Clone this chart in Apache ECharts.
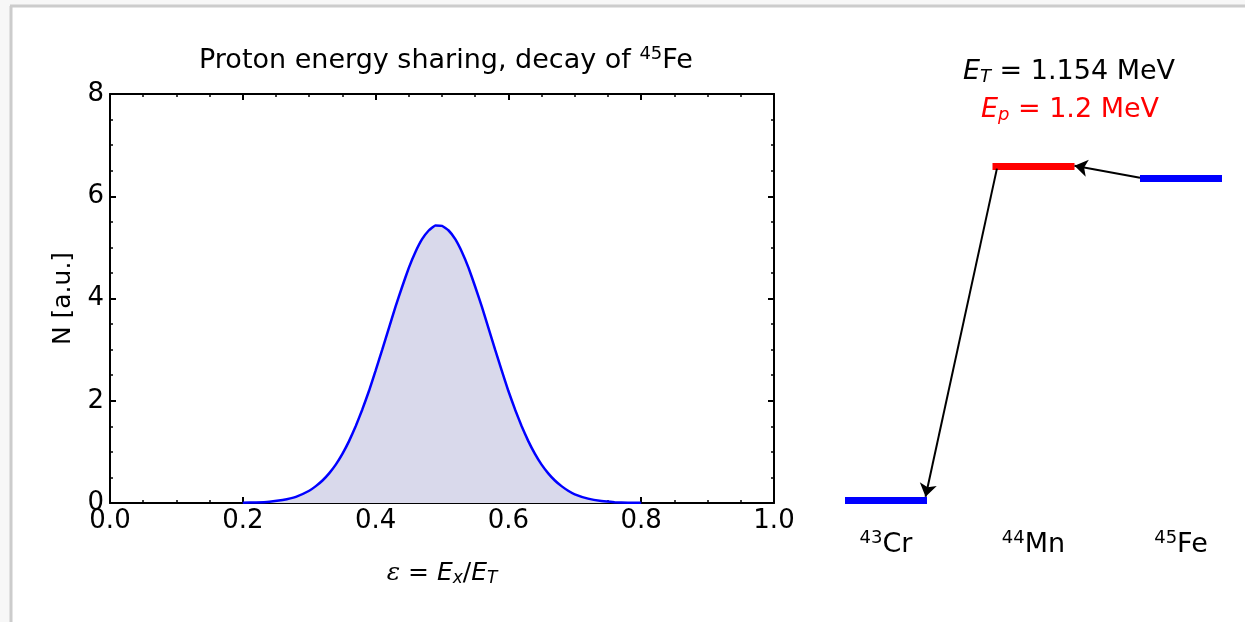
<!DOCTYPE html>
<html>
<head>
<meta charset="utf-8">
<script src="https://cdn.jsdelivr.net/npm/echarts@6/dist/echarts.min.js"></script>
<style>
html,body{margin:0;padding:0;background:#f7f7f7;}
#chart{width:1245px;height:622px;}
</style>
</head>
<body>
<div id="chart"></div>
<script>
// ---- data: proton energy sharing distribution ----
const epsilon = [0.20,0.22,0.24,0.26,0.28,0.30,0.31,0.32,0.33,0.34,0.35,0.36,0.37,0.38,0.39,0.40,0.41,0.42,0.43,0.44,0.45,0.46,0.47,0.48,0.49,0.50,0.51,0.52,0.53,0.54,0.55,0.56,0.57,0.58,0.59,0.60,0.61,0.62,0.63,0.64,0.65,0.66,0.67,0.68,0.69,0.70,0.72,0.74,0.76,0.78,0.80];
const counts  = [0.004,0.011,0.026,0.058,0.12,0.24,0.33,0.44,0.58,0.75,0.96,1.21,1.50,1.83,2.19,2.59,3.00,3.42,3.84,4.23,4.60,4.91,5.16,5.33,5.43,5.42,5.33,5.16,4.91,4.60,4.23,3.84,3.42,3.00,2.59,2.19,1.83,1.50,1.21,0.96,0.75,0.58,0.44,0.33,0.24,0.17,0.085,0.039,0.017,0.007,0.003];
const xTicks = [0.0,0.2,0.4,0.6,0.8,1.0];
const yTicks = [0,2,4,6,8];

// ---- data: level scheme ----
const massNumbers = ['43','44','45'];
const elements = ['Cr','Mn','Fe'];
const levelEnergies = [0, 1.2, 1.154];   // MeV relative to 43Cr
const transitions = [[2,1],[1,0]];       // 45Fe -> 44Mn -> 43Cr
const totalEnergy = '1.154';
const protonEnergy = '1.2';

const levelWidth = 0.556;
const levelColors = ['#0000ff','#ff0000','#0000ff'];

const chart = echarts.init(document.getElementById('chart'));
const FONT = 'DejaVu Sans';

const levelSeries = massNumbers.map((m,i)=>({
  type:'lines', coordinateSystem:'cartesian2d', xAxisIndex:2, yAxisIndex:2,
  polyline:false, symbol:['none','none'], silent:true,
  lineStyle:{color:levelColors[i], width:7, opacity:1},
  data:[{coords:[[i, levelEnergies[i]],[i+levelWidth, levelEnergies[i]]]}],
  z:3
}));

const arrowData = transitions.map(([from,to])=>{
  if (from === 2) {
    return {coords:[[from, levelEnergies[from]+0.003],[to+levelWidth, levelEnergies[to]]]};
  }
  return {coords:[[from+0.03, levelEnergies[from]-0.01],[to+levelWidth-0.01, levelEnergies[to]+0.012]]};
});

const labelData = massNumbers.map((m,i)=>({value:[i+levelWidth/2, levelEnergies[0]], name:m, el:elements[i]}));

const option = {
  backgroundColor:'#f7f7f7',
  animation:false,
  graphic:[
    {type:'rect', shape:{x:10,y:5,width:1240,height:620}, style:{fill:'#ffffff'}, z:-10, silent:true},
    {type:'line', shape:{x1:11,y1:6,x2:11,y2:622}, style:{stroke:'#cccccc', lineWidth:3}, z:-9, silent:true},
    {type:'line', shape:{x1:10,y1:6,x2:1245,y2:6}, style:{stroke:'#cccccc', lineWidth:3}, z:-9, silent:true}
  ],
  title:[
    {text:'Proton energy sharing, decay of {sup|45}{n|Fe}', left:441, top:40, textAlign:'center',
     textStyle:{fontFamily:FONT, fontSize:27, fontWeight:'normal', color:'#000',
       rich:{n:{fontFamily:FONT,fontSize:27,color:'#000'},
             sup:{fontFamily:FONT,fontSize:18,verticalAlign:'top',color:'#000',padding:[0,0,13,0]}}}},
    {text:'{e|E}{s|T}{n| = '+totalEnergy+' MeV}', left:1064, top:52, textAlign:'center',
     textStyle:{fontFamily:FONT, fontSize:27, fontWeight:'normal',
       rich:{e:{fontFamily:FONT,fontSize:27,fontStyle:'italic',color:'#000'},
             s:{fontFamily:FONT,fontSize:18,fontStyle:'italic',color:'#000',padding:[11,0,0,0]},
             n:{fontFamily:FONT,fontSize:27,color:'#000'}}}},
    {text:'{e|E}{s|p}{n| = '+protonEnergy+' MeV}', left:1065, top:90, textAlign:'center',
     textStyle:{fontFamily:FONT, fontSize:27, fontWeight:'normal',
       rich:{e:{fontFamily:FONT,fontSize:27,fontStyle:'italic',color:'#ff0000'},
             s:{fontFamily:FONT,fontSize:18,fontStyle:'italic',color:'#ff0000',padding:[11,0,0,0]},
             n:{fontFamily:FONT,fontSize:27,color:'#ff0000'}}}}
  ],
  grid:[
    {left:110, top:94, width:664, height:409, containLabel:false},
    {left:845, top:138, width:377, height:390, containLabel:false}
  ],
  xAxis:[
    {type:'value', gridIndex:0, min:0, max:1, interval:0.2, position:'bottom',
     name:'{eps|ε} = {e|E}{s|x}/{e|E}{s|T}', nameLocation:'middle', nameGap:57,
     nameTextStyle:{fontFamily:FONT, fontSize:25, color:'#000',
       rich:{eps:{fontFamily:'DejaVu Serif',fontSize:25,fontStyle:'italic',color:'#000'},
             e:{fontFamily:FONT,fontSize:25,fontStyle:'italic',color:'#000'},
             s:{fontFamily:FONT,fontSize:17,fontStyle:'italic',color:'#000',padding:[10,0,0,0]}}},
     axisLine:{show:true,onZero:false,lineStyle:{color:'#000',width:2}},
     axisTick:{show:true,inside:true,length:6,lineStyle:{color:'#000',width:2}},
     minorTick:{show:true,splitNumber:4,length:3,lineStyle:{color:'#000',width:1.5}},
     splitLine:{show:false},
     axisLabel:{fontFamily:FONT,fontSize:26,color:'#000',margin:5,
       formatter:v=>xTicks.find(t=>Math.abs(t-v)<1e-9).toFixed(1)}},
    {type:'value', gridIndex:0, min:0, max:1, interval:0.2, position:'top',
     axisLine:{show:true,onZero:false,lineStyle:{color:'#000',width:2}},
     axisTick:{show:true,inside:true,length:6,lineStyle:{color:'#000',width:2}},
     minorTick:{show:true,splitNumber:4,length:3,lineStyle:{color:'#000',width:1.5}},
     splitLine:{show:false}, axisLabel:{show:false}},
    {type:'value', gridIndex:1, min:0, max:2+levelWidth, show:false}
  ],
  yAxis:[
    {type:'value', gridIndex:0, min:0, max:8, interval:2, position:'left',
     name:'N [a.u.]', nameLocation:'middle', nameGap:34, nameRotate:90,
     nameTextStyle:{fontFamily:FONT, fontSize:25, color:'#000'},
     axisLine:{show:true,onZero:false,lineStyle:{color:'#000',width:2}},
     axisTick:{show:true,inside:true,length:6,lineStyle:{color:'#000',width:2}},
     minorTick:{show:true,splitNumber:4,length:3,lineStyle:{color:'#000',width:1.5}},
     splitLine:{show:false},
     axisLabel:{fontFamily:FONT,fontSize:26,color:'#000',margin:6,
       formatter:v=>String(yTicks.find(t=>t===v))}},
    {type:'value', gridIndex:0, min:0, max:8, interval:2, position:'right',
     axisLine:{show:true,onZero:false,lineStyle:{color:'#000',width:2}},
     axisTick:{show:true,inside:true,length:6,lineStyle:{color:'#000',width:2}},
     minorTick:{show:true,splitNumber:4,length:3,lineStyle:{color:'#000',width:1.5}},
     splitLine:{show:false}, axisLabel:{show:false}},
    {type:'value', gridIndex:1, min:-0.1, max:1.3, show:false}
  ],
  series:[
    {type:'line', xAxisIndex:0, yAxisIndex:0, smooth:0.1, symbol:'none',
     data:epsilon.map((x,i)=>[x,counts[i]]),
     lineStyle:{color:'#0000ff', width:2.5},
     areaStyle:{color:'#d9d9eb', opacity:1},
     z:2},
    ...levelSeries,
    {type:'lines', coordinateSystem:'cartesian2d', xAxisIndex:2, yAxisIndex:2,
     symbol:['none','arrow'], symbolSize:[8,13], silent:true,
     lineStyle:{color:'#000', width:2, opacity:1},
     data:arrowData, z:4},
    {type:'scatter', xAxisIndex:2, yAxisIndex:2, symbolSize:0, silent:true,
     itemStyle:{opacity:1},
     data:labelData,
     label:{show:true, position:'bottom', distance:29, color:'#000', opacity:1,
       formatter:p=>'{sup|'+p.data.name+'}{el|'+p.data.el+'}',
       rich:{sup:{fontFamily:FONT,fontSize:18,color:'#000',verticalAlign:'top',padding:[0,0,13,0]},
             el:{fontFamily:FONT,fontSize:27,color:'#000'}}}}
  ]
};
chart.setOption(option);
</script>
</body>
</html>
